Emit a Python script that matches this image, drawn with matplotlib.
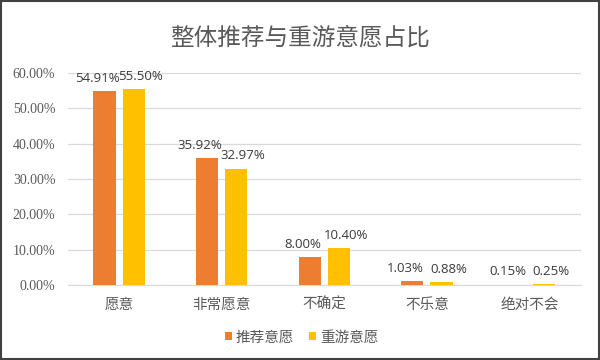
import matplotlib
matplotlib.use("Agg")
import matplotlib.pyplot as plt
import numpy as np
from matplotlib.patches import Rectangle

plt.rcParams['font.family'] = ['Noto Sans CJK SC', 'DejaVu Sans']

categories = ['愿意', '非常愿意', '不确定', '不乐意', '绝对不会']
recommend = [54.91, 35.92, 8.00, 1.03, 0.15]
revisit = [55.50, 32.97, 10.40, 0.88, 0.25]
series_names = ['推荐意愿', '重游意愿']
yticks = [0, 10, 20, 30, 40, 50, 60]

c1 = '#ED7D31'
c2 = '#FFC000'

fig = plt.figure(figsize=(6, 3.6), dpi=100)
fig.patch.set_facecolor('white')
ax = fig.add_axes([0.113, 0.208, 0.855, 0.589])

x = np.arange(len(categories))
w = 0.215
gap = 0.07
b1 = ax.bar(x - (w + gap) / 2, recommend, w, color=c1, label=series_names[0], zorder=3)
b2 = ax.bar(x + (w + gap) / 2, revisit, w, color=c2, label=series_names[1], zorder=3)

for bars, vals, dx in ((b1, recommend, -5), (b2, revisit, 5)):
    for b, v in zip(bars, vals):
        ax.annotate(f'{v:.2f}%', (b.get_x() + b.get_width() / 2, v),
                    xytext=(dx, 4.5), textcoords='offset points',
                    ha='center', va='bottom', fontsize=9.5, color='#3A3A3A',
                    family=['Open Sans', 'DejaVu Sans'])

ax.set_ylim(0, 60)
ax.set_xlim(-0.5, len(categories) - 0.5)
ax.set_yticks(yticks)
ax.set_yticklabels([f'{t}.00%' for t in yticks])
ax.tick_params(axis='y', length=0, pad=9, labelsize=10, labelcolor='#595959',
               labelfontfamily='Liberation Serif')
ax.set_xticks(x)
ax.set_xticklabels(categories)
ax.tick_params(axis='x', length=0, pad=9, labelsize=10.5, labelcolor='#595959')
ax.grid(axis='y', color='#D9D9D9', linewidth=0.9, zorder=0)
for s in ['top', 'right', 'left']:
    ax.spines[s].set_visible(False)
ax.spines['bottom'].set_color('#D9D9D9')

fig.text(0.5, 0.894, '整体推荐与重游意愿占比', ha='center', va='center',
         fontsize=17, color='#595959')

leg = fig.legend(handles=[b1, b2], labels=series_names, loc='center',
                 bbox_to_anchor=(0.503, 0.063), ncol=2, frameon=False,
                 fontsize=10.5, handlelength=0.5, handleheight=0.5,
                 handletextpad=0.25, columnspacing=1.0)
for t in leg.get_texts():
    t.set_color('#595959')

fig.add_artist(Rectangle((0.002, 0.003), 0.996, 0.994, transform=fig.transFigure,
                         fill=False, edgecolor='#404040', linewidth=1.5))

fig.savefig('out.png', dpi=100)
